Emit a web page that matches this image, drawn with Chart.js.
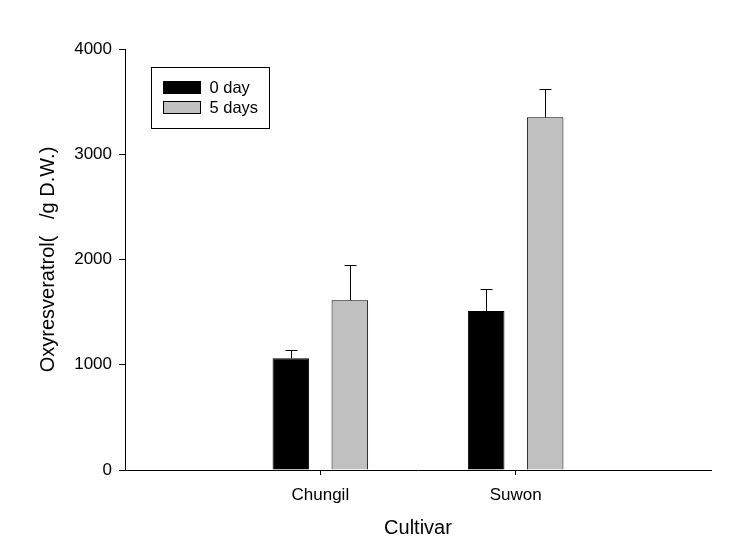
<!DOCTYPE html>
<html>
<head>
<meta charset="utf-8">
<script src="https://cdn.jsdelivr.net/npm/chart.js@4.4.1/dist/chart.umd.min.js"></script>
<style>
  html, body { margin: 0; padding: 0; background: #fff; }
  #wrap { width: 756px; height: 540px; }
</style>
</head>
<body>
<div id="wrap"><canvas id="myChart" width="756" height="540"></canvas></div>
<script>
// categories (empty ones pad the axis at both ends)
var cultivars = ['', 'Chungil', 'Suwon', ''];
var seriesNames = ['0 day', '5 days'];
var day0 = [null, 1061, 1511, null];
var day5 = [null, 1612, 3351, null];
// upper end of the error bars
var day0Err = [null, 1140, 1717, null];
var day5Err = [null, 1945, 3617, null];
var yTicks = [0, 1000, 2000, 3000, 4000];

var FONT = 'Arial, "Liberation Sans", sans-serif';

// draws the one-sided error bars with a cap
var errorBars = {
    id: 'errorBars',
    afterDatasetsDraw: function (chart) {
        var ctx = chart.ctx;
        var y = chart.scales.y;
        var tops = [day0Err, day5Err];
        ctx.save();
        ctx.strokeStyle = '#000';
        ctx.lineWidth = 1;
        for (var d = 0; d < tops.length; d++) {
            var meta = chart.getDatasetMeta(d);
            for (var i = 0; i < tops[d].length; i++) {
                if (tops[d][i] == null) continue;
                var bar = meta.data[i];
                var x = Math.round(bar.x) + 0.5;
                var yTop = Math.round(y.getPixelForValue(tops[d][i])) + 0.5;
                ctx.beginPath();
                ctx.moveTo(x, bar.y);
                ctx.lineTo(x, yTop);
                ctx.moveTo(x - 6, yTop);
                ctx.lineTo(x + 6, yTop);
                ctx.stroke();
            }
        }
        ctx.restore();
    }
};

// legend box inside the plot, upper left
var boxLegend = {
    id: 'boxLegend',
    afterDraw: function (chart) {
        var ctx = chart.ctx;
        var area = chart.chartArea;
        var bx = area.left + 26.5, by = area.top + 18.5;
        ctx.save();
        ctx.strokeStyle = '#000';
        ctx.lineWidth = 1;
        ctx.strokeRect(bx, by, 118, 61);
        var fills = ['#000000', '#c0c0c0'];
        ctx.font = '16.5px ' + FONT;
        ctx.textBaseline = 'middle';
        for (var i = 0; i < seriesNames.length; i++) {
            var cy = by + 20 + i * 20;
            ctx.fillStyle = fills[i];
            ctx.fillRect(bx + 12, cy - 6, 37, 12);
            ctx.strokeRect(bx + 12, cy - 6, 37, 12);
            ctx.fillStyle = '#000';
            ctx.fillText(seriesNames[i], bx + 58, cy + 1);
        }
        ctx.restore();
    }
};

function createChart() {
    var ctx = document.getElementById('myChart').getContext('2d');
    new Chart(ctx, {
        type: 'bar',
        data: {
            labels: cultivars,
            datasets: [
                {
                    label: seriesNames[0],
                    data: day0,
                    backgroundColor: '#000000',
                    borderColor: '#000000',
                    borderWidth: 1,
                    categoryPercentage: 0.604,
                    barPercentage: 0.62
                },
                {
                    label: seriesNames[1],
                    data: day5,
                    backgroundColor: '#c0c0c0',
                    borderColor: '#000000',
                    borderWidth: 1,
                    categoryPercentage: 0.604,
                    barPercentage: 0.62
                }
            ]
        },
        options: {
            responsive: false,
            animation: false,
            layout: { padding: { left: 0, top: 49, right: 45, bottom: 0 } },
            plugins: {
                legend: { display: false },
                tooltip: { enabled: false }
            },
            scales: {
                x: {
                    offset: false,
                    grid: {
                        offset: false,
                        drawOnChartArea: false,
                        tickLength: 5,
                        tickColor: function (c) {
                            return cultivars[c.index] ? '#000' : 'rgba(0,0,0,0)';
                        }
                    },
                    border: { color: '#000', width: 1 },
                    ticks: {
                        color: '#000',
                        padding: 10,
                        maxRotation: 0,
                        autoSkip: false,
                        font: { family: FONT, size: 17 }
                    },
                    title: {
                        display: true,
                        text: 'Cultivar',
                        color: '#000',
                        font: { family: FONT, size: 20 },
                        padding: { top: 0, bottom: 0 }
                    },
                    afterFit: function (scale) { scale.height = 70; }
                },
                y: {
                    min: 0,
                    max: 4000,
                    afterBuildTicks: function (scale) {
                        scale.ticks = yTicks.map(function (v) { return { value: v }; });
                    },
                    grid: {
                        drawOnChartArea: false,
                        tickLength: 6,
                        tickColor: '#000'
                    },
                    border: { color: '#000', width: 1 },
                    ticks: {
                        color: '#000',
                        padding: 7,
                        font: { family: FONT, size: 17 },
                        callback: function (v) { return String(v); }
                    },
                    title: {
                        display: true,
                        text: 'Oxyresveratrol(   /g D.W.)',
                        color: '#000',
                        font: { family: FONT, size: 20 },
                        padding: { top: 36, bottom: 0 }
                    },
                    afterFit: function (scale) { scale.width = 125; }
                }
            }
        },
        plugins: [errorBars, boxLegend]
    });
}

createChart();
</script>
</body>
</html>
